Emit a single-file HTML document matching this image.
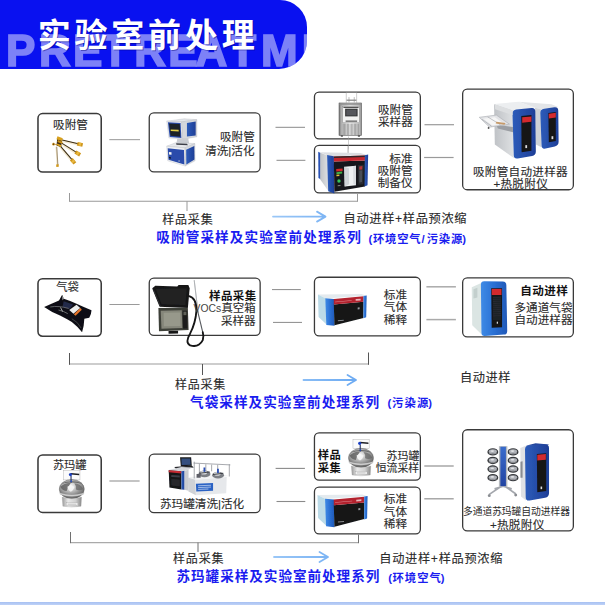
<!DOCTYPE html>
<html lang="zh-CN"><head><meta charset="utf-8"><title>实验室前处理</title>
<style>
html,body{margin:0;padding:0;background:#fff}
body{width:605px;height:605px;position:relative;overflow:hidden;font-family:"Liberation Sans",sans-serif}
.hdr{position:absolute;left:0;top:0;width:307px;height:68.6px;background:#0911f0;border-radius:0 27px 28px 0;overflow:hidden}
.bar{position:absolute;left:0;top:602px;width:605px;height:3px;background:linear-gradient(#a6c0f2,#bfd2f7)}
svg.ov{position:absolute;left:0;top:0}
svg text{font-family:"Liberation Sans","Noto Sans CJK SC",sans-serif}
.tm{fill:#2b2b2b;stroke:#2b2b2b;stroke-width:0.12}
.tb{font-weight:bold}
.tblue{fill:#1a1cf0;font-weight:bold}
</style></head><body>
<div class="hdr"><svg width="307" height="69" viewBox="0 0 307 69" style="position:absolute;left:0;top:0"><g fill="#fff" stroke="#fff" stroke-width="1.6" opacity=".47"><text x="6.02 39.01 72.88 101.82 134.28 168.34 195.54 229.33 260.89 301.76 331.02 362.33" y="66.1" font-size="44" font-weight="bold">PRETREATMENT</text></g></svg></div>
<div class="bar"></div><svg class="ov" width="605" height="605" viewBox="0 0 605 605"><g fill="#fff" stroke="#3a3a3a"><rect x="37.98" y="113.58" width="63.25" height="58.45" rx="4.6" stroke-width="1.55" aria-label="吸附管"/><rect x="149.25" y="112.95" width="110.90" height="59.00" rx="4.6" stroke-width="1.3" aria-label="吸附管 清洗|活化"/><rect x="314.45" y="92.05" width="105.90" height="46.90" rx="4.6" stroke-width="1.3" aria-label="吸附管 采样器"/><rect x="314.45" y="145.45" width="105.90" height="47.50" rx="4.6" stroke-width="1.3" aria-label="标准 吸附管 制备仪"/><rect x="462.65" y="89.15" width="110.70" height="100.60" rx="4.6" stroke-width="1.3" aria-label="吸附管自动进样器 +热脱附仪"/><rect x="37.98" y="278.77" width="63.25" height="57.45" rx="4.6" stroke-width="1.55" aria-label="气袋"/><rect x="149.25" y="278.05" width="110.90" height="57.30" rx="4.6" stroke-width="1.3" aria-label="样品采集 VOCs真空箱 采样器"/><rect x="314.45" y="277.25" width="105.90" height="58.60" rx="4.6" stroke-width="1.3" aria-label="标准 气体 稀释"/><rect x="462.65" y="277.95" width="110.70" height="58.90" rx="4.6" stroke-width="1.3" aria-label="自动进样 多通道气袋 自动进样器"/><rect x="37.98" y="455.07" width="63.25" height="57.35" rx="4.6" stroke-width="1.55" aria-label="苏玛罐"/><rect x="149.25" y="454.15" width="110.90" height="58.40" rx="4.6" stroke-width="1.3" aria-label="苏玛罐清洗|活化"/><rect x="314.45" y="432.95" width="105.90" height="47.20" rx="4.6" stroke-width="1.3" aria-label="样品采集 苏玛罐 恒流采样"/><rect x="314.45" y="487.15" width="105.90" height="46.70" rx="4.6" stroke-width="1.3" aria-label="标准 气体 稀释"/><rect x="462.65" y="429.75" width="110.70" height="101.20" rx="4.6" stroke-width="1.3" aria-label="多通道苏玛罐自动进样器 +热脱附仪"/></g><path d="M109.3 139.6L140 139.6" stroke="#a8a8a8" stroke-width="1.2" fill="none"/><path d="M275.5 127.3L305 127.3" stroke="#8a8a8a" stroke-width="1" fill="none"/><path d="M276.5 160.3L305.4 160.3" stroke="#8a8a8a" stroke-width="1" fill="none"/><path d="M424.5 124.7L454 124.7" stroke="#9a9a9a" stroke-width="1.2" fill="none"/><path d="M424.1 157.5L453.6 157.5" stroke="#9a9a9a" stroke-width="1.2" fill="none"/><path d="M109.4 304.5L139.6 304.5" stroke="#9a9a9a" stroke-width="1" fill="none"/><path d="M272 289.6L300.8 289.6" stroke="#8a8a8a" stroke-width="1" fill="none"/><path d="M273 322.4L302 322.4" stroke="#8a8a8a" stroke-width="1" fill="none"/><path d="M426.4 286.8L455.9 286.8" stroke="#aaaaaa" stroke-width="1.5" fill="none"/><path d="M426.4 319.6L455.9 319.6" stroke="#aaaaaa" stroke-width="1.5" fill="none"/><path d="M109.4 481L139.6 481" stroke="#b5b5b5" stroke-width="1.6" fill="none"/><path d="M275.6 468.4L304.9 468.4" stroke="#8a8a8a" stroke-width="1.1" fill="none"/><path d="M276.5 501.5L305.3 501.5" stroke="#8a8a8a" stroke-width="1.1" fill="none"/><path d="M424.3 466L453.7 466" stroke="#9a9a9a" stroke-width="1.3" fill="none"/><path d="M424.3 498.8L453.7 498.8" stroke="#9a9a9a" stroke-width="1.3" fill="none"/><path d="M69.5 201.2H357.5" stroke="#999" stroke-width="1.1" fill="none"/><path d="M69.5 193V201.75M357.5 193.5V201.75M187 201.2V211" stroke="#999" stroke-width="1.0" fill="none"/><path d="M69.5 364H368.5" stroke="#bdbdbd" stroke-width="1.6" fill="none"/><path d="M69.5 353V364.8M368.5 352.5V364.8M202.5 364V375" stroke="#555" stroke-width="1.0" fill="none"/><path d="M70.5 542.6H358.5" stroke="#aaaaaa" stroke-width="1.2" fill="none"/><path d="M70.5 532V543.2M358.5 534.5V543.2M198 542.6V552" stroke="#707070" stroke-width="1.0" fill="none"/><defs><linearGradient id="ag" gradientUnits="userSpaceOnUse" x1="270" x2="360"><stop offset="0" stop-color="#9cc8f7"/><stop offset="1" stop-color="#6aa9f2"/></linearGradient></defs><path d="M273 216.6H324.5M317.0 211.6L325.5 216.6L317.0 221.6" stroke="url(#ag)" stroke-width="1.8" fill="none" stroke-linecap="round" stroke-linejoin="round"/><path d="M303.5 380H355M347.5 375L356 380L347.5 385" stroke="url(#ag)" stroke-width="1.8" fill="none" stroke-linecap="round" stroke-linejoin="round"/><path d="M274 557H327M319.5 552L328 557L319.5 562" stroke="url(#ag)" stroke-width="1.8" fill="none" stroke-linecap="round" stroke-linejoin="round"/><defs>
<linearGradient id="gBlue" x1="0" x2="1"><stop offset="0" stop-color="#2d5cba"/><stop offset="1" stop-color="#1e3e96"/></linearGradient>
<linearGradient id="gBlueV" x1="0" x2="0" y1="0" y2="1"><stop offset="0" stop-color="#3a6ccc"/><stop offset="1" stop-color="#2244a2"/></linearGradient>
<linearGradient id="gBlue2" x1="0" x2="1"><stop offset="0" stop-color="#3f8be6"/><stop offset=".5" stop-color="#2a70d4"/><stop offset="1" stop-color="#2159b8"/></linearGradient>
<linearGradient id="gSteel" x1="0" x2="1"><stop offset="0" stop-color="#7a7a7a"/><stop offset=".14" stop-color="#bcbcbc"/><stop offset=".5" stop-color="#eeeeee"/><stop offset=".88" stop-color="#c6c6c6"/><stop offset="1" stop-color="#8c8c8c"/></linearGradient>
<linearGradient id="gSide" x1="0" x2="1"><stop offset="0" stop-color="#bfc2c6"/><stop offset="1" stop-color="#dfe1e3"/></linearGradient>
<radialGradient id="gChrome" cx=".45" cy=".35" r=".75"><stop offset="0" stop-color="#ffffff"/><stop offset=".3" stop-color="#c6c6c6"/><stop offset=".65" stop-color="#858585"/><stop offset="1" stop-color="#4c4c4c"/></radialGradient>
<linearGradient id="gSkirt" x1="0" x2="1"><stop offset="0" stop-color="#9a9a9a"/><stop offset=".3" stop-color="#e9e9e9"/><stop offset=".7" stop-color="#d0d0d0"/><stop offset="1" stop-color="#8a8a8a"/></linearGradient>
<filter id="soft" x="-5%" y="-5%" width="110%" height="110%"><feGaussianBlur stdDeviation="0.35"/></filter>
</defs><g transform="translate(35 110) scale(0.11570)" fill="none" filter="url(#soft)"><path d="M225.4 264.3L381.6 300.2" stroke="#f3e9d2" stroke-width="20"/><path d="M207.4 253.1L383.2 293.3" stroke="#3b2c12" stroke-width="9"/><path d="M365.2 291.3L412.0 302.0" stroke="#cf961c" stroke-width="31"/><path d="M378.9 294.4L398.4 298.9" stroke="#e8b840" stroke-width="27"/><path d="M227.3 291.9L361.9 376.3" stroke="#f3e9d2" stroke-width="20"/><path d="M214.1 275.3L365.6 370.4" stroke="#3b2c12" stroke-width="9"/><path d="M349.3 362.5L390.0 388.0" stroke="#cf961c" stroke-width="31"/><path d="M361.2 369.9L378.1 380.6" stroke="#e8b840" stroke-width="27"/><path d="M216.2 318.5L321.7 442.4" stroke="#f3e9d2" stroke-width="20"/><path d="M208.5 298.7L327.1 437.9" stroke="#3b2c12" stroke-width="9"/><path d="M313.9 425.5L345.0 462.0" stroke="#cf961c" stroke-width="31"/><path d="M323.0 436.1L335.9 451.3" stroke="#e8b840" stroke-width="27"/><path d="M184.0 318.0L194.1 478.0" stroke="#e9dcc0" stroke-width="13"/><path d="M188.0 317.7L198.1 477.8" stroke="#6a5530" stroke-width="5"/><path d="M193.6 470.0L195.0 492.0" stroke="#d39a1c" stroke-width="22"/><path d="M192 246L232 262L226 322L186 306Z" fill="#3a2a12"/><path d="M190 240L236 256" stroke="#d9a11e" stroke-width="26"/><path d="M196 268L236 284" stroke="#c98f18" stroke-width="18"/><path d="M190 296L226 312" stroke="#d9a11e" stroke-width="16"/><circle cx="160" cy="295" r="11" fill="#c58a14"/><circle cx="160" cy="295" r="5" fill="#4a3512"/><path d="M168 295L190 300" stroke="#b8872a" stroke-width="7"/></g><g transform="translate(155 112) scale(0.09921)" filter="url(#soft)"><polygon points="118,93 295,68 422,78 266,100" fill="#e4e6ea" stroke="#a9adb4" stroke-width="3" stroke-linejoin="round"/><polygon points="266,100 422,78 422,250 332,266 276,272" fill="#d4d7dc" stroke="#a9adb4" stroke-width="3" stroke-linejoin="round"/><polygon points="322,112 410,95 410,236 322,246" fill="url(#gBlue)" /><polygon points="118,93 266,100 276,272 140,262" fill="#eceef1" stroke="#a9adb4" stroke-width="3" stroke-linejoin="round"/><polygon points="130,104 258,110 266,262 148,252" fill="#2a4cab" /><polygon points="142,116 250,122 255,250 156,240" fill="#1d2027" /><polygon points="158,176 238,180 239,196 159,192" fill="#e2cf48" /><polygon points="225,268 335,264 345,325 215,320" fill="#c9ccd2" /><polygon points="118,345 212,308 402,318 300,362" fill="#e6e8ec" stroke="#a9adb4" stroke-width="3" stroke-linejoin="round"/><polygon points="212,314 322,319 332,336 216,331" fill="#3a3e46" /><polygon points="300,362 402,318 404,492 304,545" fill="#d6d9de" stroke="#a9adb4" stroke-width="3" stroke-linejoin="round"/><polygon points="314,380 396,342 398,480 316,528" fill="url(#gBlue)" /><polygon points="118,345 300,362 304,545 128,492" fill="#eef0f3" stroke="#a9adb4" stroke-width="3" stroke-linejoin="round"/><polygon points="128,366 292,384 296,528 136,482" fill="#2a4cab" /><polygon points="140,402 166,405 166,432 141,428" fill="#f4f4f4" /><polygon points="140,452 160,455 160,470 141,467" fill="#15171c" /><polygon points="236,488 250,490 250,500 236,498" fill="#c8cbd2" /></g><g transform="translate(325 88) scale(0.09588)" filter="url(#soft)"><path d="M222 155V45H330V155" stroke="#9a9a9a" stroke-width="5" fill="none"/><path d="M225 127H327" stroke="#6f6f6f" stroke-width="11"/><path d="M250 95V150M305 95V150" stroke="#888" stroke-width="6"/><rect x="145" y="155" width="236" height="340" fill="url(#gSteel)"/><rect x="147" y="157" width="232" height="336" fill="none" stroke="#555" stroke-width="6"/><rect x="150" y="158" width="228" height="22" fill="#8f8f8f" opacity=".8"/><rect x="185" y="190" width="172" height="172" fill="#f2f2f2" stroke="#808080" stroke-width="4"/><rect x="192" y="196" width="158" height="12" fill="#4a4a4a"/><rect x="210" y="216" width="130" height="80" fill="#333335"/><rect x="222" y="226" width="106" height="60" fill="#55575c"/><rect x="215" y="340" width="120" height="11" fill="#444"/><rect x="186.0" y="372" width="6" height="118" fill="#777" opacity=".8"/><rect x="200.5" y="372" width="6" height="118" fill="#777" opacity=".8"/><rect x="215.0" y="372" width="6" height="118" fill="#777" opacity=".8"/><rect x="229.5" y="372" width="6" height="118" fill="#777" opacity=".8"/><rect x="244.0" y="372" width="6" height="118" fill="#777" opacity=".8"/><rect x="258.5" y="372" width="6" height="118" fill="#777" opacity=".8"/><rect x="273.0" y="372" width="6" height="118" fill="#777" opacity=".8"/><rect x="287.5" y="372" width="6" height="118" fill="#777" opacity=".8"/><rect x="302.0" y="372" width="6" height="118" fill="#777" opacity=".8"/><rect x="316.5" y="372" width="6" height="118" fill="#777" opacity=".8"/><rect x="331.0" y="372" width="6" height="118" fill="#777" opacity=".8"/><rect x="345.5" y="372" width="6" height="118" fill="#777" opacity=".8"/><rect x="165" y="495" width="22" height="12" fill="#333"/><rect x="343" y="495" width="22" height="12" fill="#333"/><path d="M245 505V640" stroke="#9a9a9a" stroke-width="5"/></g><g transform="translate(314 144) scale(0.10579)" filter="url(#soft)"><path d="M322 20V105" stroke="#a8a8a8" stroke-width="9"/><polygon points="55,78 440,84 500,104 186,116 128,106" fill="#dcdee2" /><polygon points="55,80 130,108 136,444 56,332" fill="url(#gSide)" /><polygon points="40,74 58,82 58,332 42,322" fill="#2a52b6" /><polygon points="124,104 188,116 192,468 134,446" fill="url(#gBlue)" /><polygon points="188,166 486,156 482,402 192,452" fill="#17181b" /><polygon points="188,118 486,108 486,156 188,166" fill="#c4262e" /><polygon points="188,118 486,108 486,122 188,132" fill="#30282a" /><polygon points="286,216 396,206 396,390 290,402" fill="#eef0f2" /><polygon points="286,216 330,230 332,380 290,402" fill="#cfd3d8" /><polygon points="370,210 396,206 396,390 372,375" fill="#d9dce0" /><polygon points="210,236 270,231 270,256 210,260" fill="#d4282c" /><polygon points="212,266 266,261 266,280 212,285" fill="#3fae4a" /><polygon points="212,290 240,288 240,302 212,304" fill="#e4c23a" /><circle cx="236" cy="350" r="16" fill="#35c45a"/><polygon points="224,390 250,388 250,398 224,400" fill="#888" /><polygon points="416,200 470,195 466,380 420,386" fill="#2a2c31" /><polygon points="428,212 458,209 456,240 428,243" fill="#b5343a" /><polygon points="428,250 456,247 454,360 428,364" fill="#4a4e56" /><polygon points="480,106 512,100 506,390 478,402" fill="url(#gBlue)" /></g><g transform="translate(474 95) scale(0.14877)" filter="url(#soft)"><polygon points="300,45 520,62 566,80 450,96 410,85" fill="#e3e5e8" /><polygon points="410,86 450,96 454,352 416,332" fill="#cfd2d6" /><path d="M471 91.6L540 82.4Q566 79 566.3 105L568.7 314Q569 340 543 345.9L481 360.1Q455 366 454.0 340L446.0 121Q445 95 471 91.6Z" fill="url(#gBlue)"/><polygon points="500,121 550,115 550,310 503,318" fill="#131418" /><polygon points="503,126 550,120 550,152 503,158" fill="#d32a2e" /><rect x="521" y="277" width="12" height="20" fill="#dcdcdc"/><polygon points="135,60 300,45 412,84 262,104" fill="#eceef0" /><polygon points="135,62 262,104 268,424 140,332" fill="url(#gSide)" /><path d="M284 98.3L386 87.7Q412 85 412.3 111L415.7 379Q416 405 390 409.6L294 426.4Q268 431 267.2 405L258.8 127Q258 101 284 98.3Z" fill="url(#gBlue)"/><polygon points="318,141 386,135 386,375 320,385" fill="#131418" /><polygon points="324,150 386,145 386,180 324,186" fill="#d32a2e" /><rect x="345" y="337" width="12" height="20" fill="#dcdcdc"/><polygon points="150,200 262,215 262,250 160,225" fill="#9b9ea3" /><polygon points="35,150 150,135 238,196 105,216" fill="#e3e4e7" stroke="#a9acb1" stroke-width="4"/><polygon points="62,160 140,150 200,194 122,204" fill="#f6f6f6" /><path d="M52 162L118 210M92 147L178 200" stroke="#9a9da2" stroke-width="4"/><polygon points="150,180 212,188 205,200 146,192" fill="#c69a6a" /><path d="M98 214V228" stroke="#555" stroke-width="10"/><polygon points="140,62 258,102 260,135 142,95" fill="#dcdee0" /></g><g transform="translate(38 288) scale(0.10248)" filter="url(#soft)"><path d="M60 185Q140 150 205 122L236 66L252 104Q320 125 365 150Q450 190 522 216Q520 260 500 290L452 300Q450 370 430 432Q380 370 330 332Q270 295 215 268Q130 235 60 185Z" fill="#101114"/><path d="M238 72L250 104L240 120Z" fill="#e4e6ea"/><polygon points="250,130 342,162 312,202 240,182" fill="#232a4a" /><path d="M120 185Q200 170 300 200" stroke="#7d8088" stroke-width="7" fill="none"/><path d="M200 215Q250 225 290 250" stroke="#9a9ca2" stroke-width="6" fill="none"/><path d="M220 190L240 230" stroke="#c8cacc" stroke-width="8" fill="none"/><polygon points="305,215 376,164 412,196 346,252" fill="#eceded" /><polygon points="350,256 414,196 427,212 366,272" fill="#e8742a" /><path d="M330 300Q390 330 420 390" stroke="#5a5c62" stroke-width="6" fill="none"/></g><g transform="translate(148 276) scale(0.12225)" filter="url(#soft)"><path d="M378 35L410 300" stroke="#8e9196" stroke-width="8"/><path d="M379 40L409 296" stroke="#e4e6e8" stroke-width="3"/><path d="M402 270L448 462" stroke="#55585d" stroke-width="9"/><path d="M330 162Q398 175 396 285Q390 380 345 470Q300 545 345 568Q415 588 448 525Q458 490 448 460" stroke="#131313" stroke-width="15" fill="none" stroke-linecap="round"/><polygon points="35,100 60,80 240,86 250,74 330,74 341,100 326,262 95,252 40,116" fill="#151617" /><polygon points="62,104 318,100 306,240 110,232" fill="#202123" /><path d="M45 112L100 245" stroke="#3c3d40" stroke-width="6"/><polygon points="85,262 326,260 332,442 90,452" fill="#3e3f39" /><polygon points="104,284 276,281 281,426 110,432" fill="#85867a" /><polygon points="128,300 264,299 266,410 130,412" fill="#97988b" /><polygon points="284,285 320,285 323,430 287,431" fill="#1e1f1d" /><polygon points="290,292 314,292 314,320 290,320" fill="#5f6158" /><polygon points="168,450 246,448 246,470 168,472" fill="#131313" /></g><g transform="translate(314 285) scale(0.09921)" filter="url(#soft)"><polygon points="40,95 480,90 528,108 120,136" fill="#e4eaee" /><polygon points="40,95 120,136 126,398 46,322" fill="#bcdbe8" /><polygon points="114,134 202,140 207,412 124,402" fill="url(#gBlue2)" /><polygon points="200,196 500,170 498,332 206,406" fill="#121316" /><polygon points="200,140 500,114 500,170 200,196" fill="#b3222f" /><polygon points="212,168 380,153 380,158 212,173" fill="#d88a90" /><polygon points="420,142 470,138 470,156 420,160" fill="#e6b8bc" /><polygon points="498,110 531,105 526,326 498,336" fill="url(#gBlue2)" /><polygon points="440,226 460,224 460,244 440,246" fill="#9a9ca0" /><polygon points="240,356 300,350 300,360 240,366" fill="#8c8e92" /></g><g transform="translate(313.4 485.2) scale(0.10204)" filter="url(#soft)"><polygon points="40,95 480,90 528,108 120,136" fill="#e4eaee" /><polygon points="40,95 120,136 126,398 46,322" fill="#bcdbe8" /><polygon points="114,134 202,140 207,412 124,402" fill="url(#gBlue2)" /><polygon points="200,196 500,170 498,332 206,406" fill="#121316" /><polygon points="200,140 500,114 500,170 200,196" fill="#b3222f" /><polygon points="212,168 380,153 380,158 212,173" fill="#d88a90" /><polygon points="420,142 470,138 470,156 420,160" fill="#e6b8bc" /><polygon points="498,110 531,105 526,326 498,336" fill="url(#gBlue2)" /><polygon points="440,226 460,224 460,244 440,246" fill="#9a9ca0" /><polygon points="240,356 300,350 300,360 240,366" fill="#8c8e92" /></g><g transform="translate(462 277) scale(0.10246)" filter="url(#soft)"><polygon points="95,100 188,58 192,562 100,472" fill="#dbe5e3" /><polygon points="112,120 150,104 150,200 112,210" fill="#c3cfcd" /><path d="M218 40.5L398 43.5Q432 44 432.7 78L441.3 526Q442 560 408 562.3L224 574.7Q190 577 189.6 543L184.4 74Q184 40 218 40.5Z" fill="url(#gBlue2)"/><polygon points="285,110 391,110 391,490 290,496" fill="#131418" /><polygon points="290,116 386,116 386,176 290,176" fill="#d32a2e" /><rect x="339" y="436" width="12" height="20" fill="#dcdcdc"/><polygon points="300,190 380,190 380,420 300,420" fill="#1d2026" /><path d="M300 200L380 196" stroke="#3a3f48" stroke-width="3"/><path d="M300 220L380 216" stroke="#3a3f48" stroke-width="3"/><path d="M300 240L380 236" stroke="#3a3f48" stroke-width="3"/><path d="M300 260L380 256" stroke="#3a3f48" stroke-width="3"/><path d="M300 280L380 276" stroke="#3a3f48" stroke-width="3"/><path d="M300 300L380 296" stroke="#3a3f48" stroke-width="3"/><path d="M300 320L380 316" stroke="#3a3f48" stroke-width="3"/><path d="M300 340L380 336" stroke="#3a3f48" stroke-width="3"/><path d="M300 360L380 356" stroke="#3a3f48" stroke-width="3"/><path d="M300 380L380 376" stroke="#3a3f48" stroke-width="3"/></g><g transform="translate(46 462) scale(0.08264)" filter="url(#soft)"><rect x="215" y="105" width="196" height="112" fill="#fbfbfb" stroke="#a8a8a8" stroke-width="5"/><ellipse cx="312" cy="328" rx="151" ry="116" fill="url(#gChrome)" stroke="#5e5e5e" stroke-width="6"/><path d="M185 262Q312 205 440 262Q312 235 185 262Z" fill="#4a4a4a" opacity=".8"/><path d="M175 300Q230 245 300 255Q262 300 250 352Q200 352 175 300Z" fill="#5c5c5c" opacity=".8"/><path d="M342 258Q420 262 450 330Q400 352 362 332Q372 292 342 258Z" fill="#666" opacity=".75"/><path d="M258 300Q300 272 345 300Q330 350 300 360Q270 350 258 300Z" fill="#f5f5f5" opacity=".9"/><path d="M196 425Q312 462 430 425L424 535Q312 555 204 535Z" fill="url(#gSkirt)" stroke="#8a8a8a" stroke-width="3"/><path d="M166 372Q312 418 460 372L452 392Q312 440 172 392Z" fill="#dedede" stroke="#7a7a7a" stroke-width="3" opacity=".9"/><rect x="245" y="493" width="140" height="32" fill="#f4f4f4" stroke="#8a8a8a" stroke-width="3"/><path d="M262 510H368" stroke="#8a8a8a" stroke-width="6"/><path d="M303 165V250" stroke="#2b3a64" stroke-width="14"/><path d="M300 133L402 142L402 160L300 152Z" fill="#1d1f24"/><circle cx="296" cy="152" r="19" fill="#1b3fc2"/><circle cx="305" cy="232" r="10" fill="#2a55c8"/></g><g transform="translate(335.2 430.8) scale(0.08264)" filter="url(#soft)"><rect x="215" y="105" width="196" height="112" fill="#fbfbfb" stroke="#a8a8a8" stroke-width="5"/><ellipse cx="312" cy="328" rx="151" ry="116" fill="url(#gChrome)" stroke="#5e5e5e" stroke-width="6"/><path d="M185 262Q312 205 440 262Q312 235 185 262Z" fill="#4a4a4a" opacity=".8"/><path d="M175 300Q230 245 300 255Q262 300 250 352Q200 352 175 300Z" fill="#5c5c5c" opacity=".8"/><path d="M342 258Q420 262 450 330Q400 352 362 332Q372 292 342 258Z" fill="#666" opacity=".75"/><path d="M258 300Q300 272 345 300Q330 350 300 360Q270 350 258 300Z" fill="#f5f5f5" opacity=".9"/><path d="M196 425Q312 462 430 425L424 535Q312 555 204 535Z" fill="url(#gSkirt)" stroke="#8a8a8a" stroke-width="3"/><path d="M166 372Q312 418 460 372L452 392Q312 440 172 392Z" fill="#dedede" stroke="#7a7a7a" stroke-width="3" opacity=".9"/><rect x="245" y="493" width="140" height="32" fill="#f4f4f4" stroke="#8a8a8a" stroke-width="3"/><path d="M262 510H368" stroke="#8a8a8a" stroke-width="6"/><path d="M303 165V250" stroke="#2b3a64" stroke-width="14"/><path d="M300 133L402 142L402 160L300 152Z" fill="#1d1f24"/><circle cx="296" cy="152" r="19" fill="#1b3fc2"/><circle cx="305" cy="232" r="10" fill="#2a55c8"/></g><g transform="translate(162 452) scale(0.12893)" filter="url(#soft)"><polygon points="140,40 226,40 231,106 146,110" fill="#17181b" /><polygon points="150,50 219,50 222,98 153,101" fill="#34507f" /><polygon points="95,116 230,105 247,120 110,131" fill="#26282c" /><polygon points="52,140 150,116 232,121 205,138 151,150" fill="#d4d7db" /><polygon points="52,142 151,150 151,290 58,275" fill="#121316" /><polygon points="52,142 151,150 151,166 52,158" fill="#c52a32" /><polygon points="72,178 138,183 138,198 72,193" fill="#3a3d44" /><polygon points="72,208 138,213 138,268 72,260" fill="#25272c" /><polygon points="151,150 175,146 175,293 151,290" fill="url(#gBlue)" /><polygon points="175,146 206,138 206,300 175,293" fill="#c9ccd0" /><polygon points="200,196 450,170 522,186 260,216" fill="#f1f2f4" /><polygon points="200,198 260,216 263,336 205,306" fill="#cfd2d6" /><polygon points="260,216 502,194 498,320 263,336" fill="#e6e8eb" /><polygon points="263,246 396,240 396,300 266,306" fill="#2a62c4" /><path d="M280 262L380 258M280 276L380 272M280 290L360 287" stroke="#dfe8f8" stroke-width="5"/><path d="M250 75V205M522 95V190M245 86L530 100M290 92V185M432 100V192M340 95V150M385 98V150" stroke="#8d9096" stroke-width="6" fill="none"/><ellipse cx="330" cy="170" rx="46" ry="26" fill="#7c7f85"/><ellipse cx="324" cy="160" rx="26" ry="14" fill="#d6d8dc"/><rect x="322" y="120" width="14" height="34" fill="#2b4fb4"/><path d="M290 165L370 155" stroke="#33363c" stroke-width="7"/><ellipse cx="435" cy="180" rx="46" ry="26" fill="#7c7f85"/><ellipse cx="429" cy="170" rx="26" ry="14" fill="#d6d8dc"/><rect x="427" y="130" width="14" height="34" fill="#2b4fb4"/><path d="M395 175L475 165" stroke="#33363c" stroke-width="7"/><polygon points="268,170 300,168 300,200 268,200" fill="#5e6168" /></g><g transform="translate(480 438) scale(0.13223)" filter="url(#soft)"><path d="M175 355L68 428M175 355L272 424M175 365L110 385M175 365L240 385" stroke="#a4a7ad" stroke-width="13" fill="none"/><circle cx="70" cy="436" r="11" fill="#8a8d92"/><circle cx="270" cy="432" r="11" fill="#8a8d92"/><ellipse cx="97" cy="105" rx="41" ry="28" fill="#35373b"/><ellipse cx="97" cy="102" rx="31" ry="16" fill="#aeb1b7"/><ellipse cx="93" cy="99" rx="14" ry="6" fill="#e4e5e8"/><path d="M67 115Q97 129 127 115" stroke="#d0d2d6" stroke-width="4" fill="none"/><ellipse cx="250" cy="105" rx="41" ry="28" fill="#35373b"/><ellipse cx="250" cy="102" rx="31" ry="16" fill="#aeb1b7"/><ellipse cx="246" cy="99" rx="14" ry="6" fill="#e4e5e8"/><path d="M220 115Q250 129 280 115" stroke="#d0d2d6" stroke-width="4" fill="none"/><ellipse cx="97" cy="170" rx="41" ry="28" fill="#35373b"/><ellipse cx="97" cy="167" rx="31" ry="16" fill="#aeb1b7"/><ellipse cx="93" cy="164" rx="14" ry="6" fill="#e4e5e8"/><path d="M67 180Q97 194 127 180" stroke="#d0d2d6" stroke-width="4" fill="none"/><ellipse cx="250" cy="170" rx="41" ry="28" fill="#35373b"/><ellipse cx="250" cy="167" rx="31" ry="16" fill="#aeb1b7"/><ellipse cx="246" cy="164" rx="14" ry="6" fill="#e4e5e8"/><path d="M220 180Q250 194 280 180" stroke="#d0d2d6" stroke-width="4" fill="none"/><ellipse cx="97" cy="235" rx="41" ry="28" fill="#35373b"/><ellipse cx="97" cy="232" rx="31" ry="16" fill="#aeb1b7"/><ellipse cx="93" cy="229" rx="14" ry="6" fill="#e4e5e8"/><path d="M67 245Q97 259 127 245" stroke="#d0d2d6" stroke-width="4" fill="none"/><ellipse cx="250" cy="235" rx="41" ry="28" fill="#35373b"/><ellipse cx="250" cy="232" rx="31" ry="16" fill="#aeb1b7"/><ellipse cx="246" cy="229" rx="14" ry="6" fill="#e4e5e8"/><path d="M220 245Q250 259 280 245" stroke="#d0d2d6" stroke-width="4" fill="none"/><ellipse cx="97" cy="300" rx="41" ry="28" fill="#35373b"/><ellipse cx="97" cy="297" rx="31" ry="16" fill="#aeb1b7"/><ellipse cx="93" cy="294" rx="14" ry="6" fill="#e4e5e8"/><path d="M67 310Q97 324 127 310" stroke="#d0d2d6" stroke-width="4" fill="none"/><ellipse cx="250" cy="300" rx="41" ry="28" fill="#35373b"/><ellipse cx="250" cy="297" rx="31" ry="16" fill="#aeb1b7"/><ellipse cx="246" cy="294" rx="14" ry="6" fill="#e4e5e8"/><path d="M220 310Q250 324 280 310" stroke="#d0d2d6" stroke-width="4" fill="none"/><rect x="143" y="62" width="64" height="306" fill="#b4b8be"/><rect x="154" y="66" width="42" height="298" fill="url(#gBlueV)"/><polygon points="305,76 346,58 348,472 310,442" fill="#dfe1e4" /><polygon points="306,180 322,176 322,300 306,300" fill="#8a8d92" /><polygon points="346,58 420,40 522,50 500,62" fill="#25479e" /><path d="M370 56.4L492 49.6Q522 48 522.0 78L522.0 416Q522 446 492 451.5L376 472.5Q346 478 345.6 448L340.4 88Q340 58 370 56.4Z" fill="url(#gBlue)"/><polygon points="430,121 501,115 501,400 433,410" fill="#131418" /><polygon points="433,126 498,121 498,165 433,170" fill="#d32a2e" /><rect x="458" y="367" width="12" height="20" fill="#dcdcdc"/></g><text x="38.7" y="48.2" font-size="33" font-weight="bold" letter-spacing="3.8" fill="#00006a" opacity=".4">实验室前处理</text><text x="37.7" y="47.2" font-size="33" font-weight="bold" letter-spacing="3.8" fill="#fff">实验室前处理</text><text class="tm" x="53.1" y="128.6" font-size="11.6">吸附管</text><text class="tm" x="220" y="141" font-size="11.6">吸附管</text><text class="tm" x="205.14" y="154.5" font-size="11.6">清洗|活化</text><text class="tm" x="378" y="113.7" font-size="11.6">吸附管</text><text class="tm" x="378" y="125.5" font-size="11.6">采样器</text><text class="tm" x="389.3" y="162.5" font-size="11.6">标准</text><text class="tm" x="377.7" y="175" font-size="11.6">吸附管</text><text class="tm" x="377.7" y="187.3" font-size="11.6">制备仪</text><text class="tm" x="473" y="175.8" font-size="11.6" letter-spacing="0.27">吸附管自动进样器</text><text class="tm" x="493.39" y="187.8" font-size="11.6" letter-spacing="0.3">+热脱附仪</text><text class="tm" x="162.2" y="223.7" font-size="12" letter-spacing="0.83">样品采集</text><text class="tm" x="343.6" y="222.7" font-size="12.2" letter-spacing="0.67">自动进样+样品预浓缩</text><text class="tblue" x="156.3" y="242.3" font-size="13.6" letter-spacing="1.1">吸附管采样及实验室前处理系列</text><text class="tblue" x="368.6" y="243" font-size="11.2">(</text><text class="tblue" x="373" y="243" font-size="11.3" letter-spacing="0.82">环境空气/</text><text class="tblue" x="426.66" y="243" font-size="11.3" letter-spacing="0.82">污染源</text><text class="tblue" x="462.37" y="243" font-size="11.2">)</text><text class="tm" x="56.3" y="290.6" font-size="11.3">气袋</text><text class="tb" x="209" y="300" font-size="11.5" letter-spacing="0.4" fill="#111">样品采集</text><text class="tm" x="221.4" y="312.3" font-size="11.4">真空箱</text><text x="193.58" y="312.3" font-size="11.4" fill="#444" textLength="27.6" lengthAdjust="spacingAndGlyphs">VOCs</text><text class="tm" x="221.1" y="324.8" font-size="11.5">采样器</text><text class="tm" x="383.8" y="298.5" font-size="11.6">标准</text><text class="tm" x="383.8" y="311" font-size="11.6">气体</text><text class="tm" x="383.8" y="323.5" font-size="11.6">稀释</text><text class="tb" x="520.2" y="295" font-size="11.6" letter-spacing="0.4" fill="#111">自动进样</text><text class="tm" x="514.5" y="311.5" font-size="11.6">多通道气袋</text><text class="tm" x="514.5" y="324" font-size="11.6">自动进样器</text><text class="tm" x="175" y="388.7" font-size="12" letter-spacing="0.73">样品采集</text><text class="tm" x="460" y="382.1" font-size="12.2" letter-spacing="0.6">自动进样</text><text class="tblue" x="190" y="406.8" font-size="13.6" letter-spacing="1.04">气袋采样及实验室前处理系列</text><text class="tblue" x="387.6" y="407.4" font-size="11.2">(</text><text class="tblue" x="392" y="407.4" font-size="11.3" letter-spacing="1.15">污染源</text><text class="tblue" x="428.37" y="407.4" font-size="11.2">)</text><text class="tm" x="52.9" y="468.7" font-size="11.2">苏玛罐</text><text class="tm" x="160" y="508" font-size="11.6">苏玛罐清洗|活化</text><text class="tb" x="317.85" y="459.3" font-size="11.3" letter-spacing="0.3" fill="#111">样品</text><text class="tb" x="317.85" y="471.8" font-size="11.3" letter-spacing="0.3" fill="#111">采集</text><text class="tm" x="386.6" y="460.4" font-size="10.9">苏玛罐</text><text class="tm" x="375.7" y="472.2" font-size="10.9">恒流采样</text><text class="tm" x="383.8" y="503" font-size="11.6">标准</text><text class="tm" x="383.8" y="515.5" font-size="11.6">气体</text><text class="tm" x="383.8" y="527.8" font-size="11.6">稀释</text><text x="463" y="515" font-size="9.8" letter-spacing="-0.08" fill="#2b2b2b">多通道苏玛罐自动进样器</text><text class="tm" x="489.89" y="529" font-size="11.6" letter-spacing="0.3">+热脱附仪</text><text class="tm" x="173" y="562.7" font-size="12" letter-spacing="0.87">样品采集</text><text class="tm" x="379.3" y="562.8" font-size="12.2" letter-spacing="0.7">自动进样+样品预浓缩</text><text class="tblue" x="176.5" y="581" font-size="13.6" letter-spacing="0.96">苏玛罐采样及实验室前处理系列</text><text class="tblue" x="388.2" y="581.5" font-size="11.2">(</text><text class="tblue" x="392.6" y="581.5" font-size="11.3" letter-spacing="0.97">环境空气</text><text class="tblue" x="440.87" y="581.5" font-size="11.2">)</text></svg></body></html>
